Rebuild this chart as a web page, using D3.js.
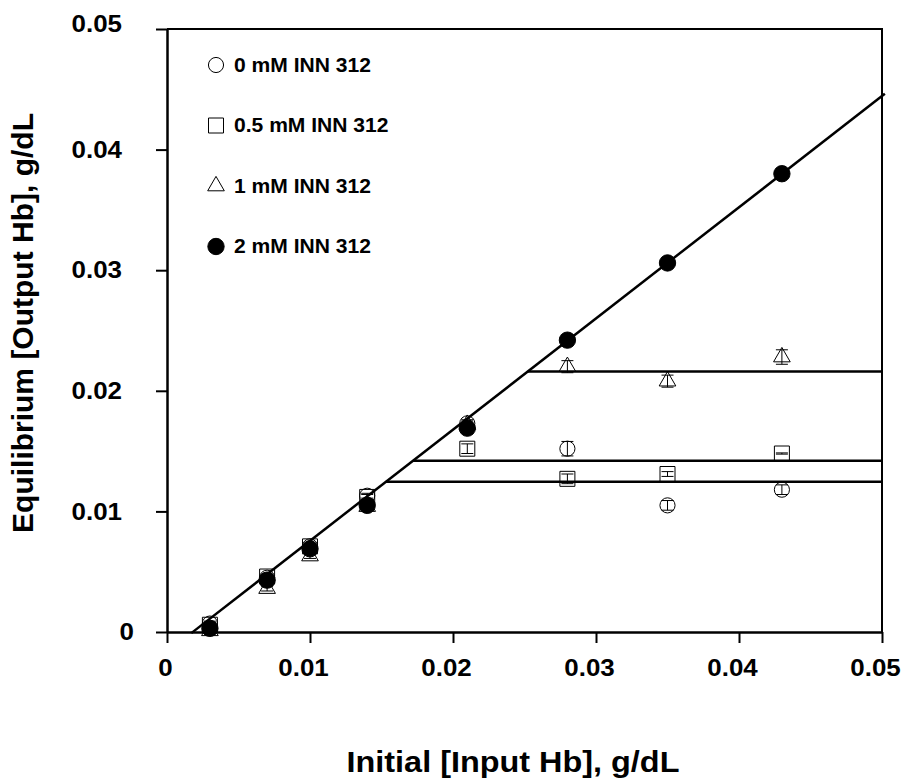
<!DOCTYPE html>
<html>
<head>
<meta charset="utf-8">
<script src="https://cdn.jsdelivr.net/npm/d3@7"></script>
<style>
  body { margin: 0; background: #fff; }
  svg { display: block; font-family: "Liberation Sans", Arial, sans-serif; }
</style>
</head>
<body>
<div id="chart"></div>
<script>
// Input Hb concentrations (g/dL)
const inputHb = [0.003, 0.007, 0.010, 0.014, 0.021, 0.028, 0.035, 0.043];

// Equilibrium output Hb per INN 312 concentration
const out0 = [0.0007, 0.0045, 0.0071, 0.0113, 0.0173, 0.0152, 0.0105, 0.0118];
const out05 = [0.0006, 0.0046, 0.0071, 0.0112, 0.0152, 0.0127, 0.0131, 0.0148];
const out1 = [0.0001, 0.0036, 0.0063, 0.0104, 0.0172, 0.0220, 0.0208, 0.0228];
const out2 = [0.0003, 0.0043, 0.0069, 0.0105, 0.0169, 0.0242, 0.0306, 0.0380];

// error bars (+/-)
const err0 = [0.0002, 0.0002, 0.0002, 0.0002, 0.0003, 0.0006, 0.0004, 0.0004];
const err05 = [0.0002, 0.0002, 0.0002, 0.0002, 0.0004, 0.0004, 0.0002, 0.00005];
const err1 = [0.0002, 0.0002, 0.0002, 0.0002, 0.0003, 0.0005, 0.0005, 0.0006];
const err2 = [0.0002, 0.0002, 0.0002, 0.0002, 0.0002, 0.0002, 0.0002, 0.0004];

const seriesNames = ["0 mM INN 312", "0.5 mM INN 312", "1 mM INN 312", "2 mM INN 312"];

// fitted lines: linear part and plateau levels
const fitSlope = 0.922;
const fitX0 = 0.0018;
const fitRange = [0.0017, 0.0502];
const plateaus = [0.0216, 0.0142, 0.01245];

const xTicks = [0, 0.01, 0.02, 0.03, 0.04, 0.05];
const yTicks = [0, 0.01, 0.02, 0.03, 0.04, 0.05];

const width = 903, height = 782;
const marginLeft = 167, marginRight = 21, marginTop = 29, marginBottom = 150;
const stretch = 1.08; // text in the original is a bit wider than Arial

const x = d3.scaleLinear().domain([0, 0.05]).range([marginLeft, width - marginRight]);
const y = d3.scaleLinear().domain([0, 0.05]).range([height - marginBottom, marginTop]);

const svg = d3.select("#chart").append("svg")
    .attr("width", width)
    .attr("height", height)
    .attr("viewBox", [0, 0, width, height]);

function widen(sel) {
    sel.each(function () {
        const len = this.getComputedTextLength();
        d3.select(this)
            .attr("textLength", len * stretch)
            .attr("lengthAdjust", "spacingAndGlyphs");
    });
}

// frame (top and right)
svg.append("path")
    .attr("fill", "none")
    .attr("stroke", "#000")
    .attr("stroke-width", 2)
    .attr("d", `M${x(0)},${y(0.05)}H${x(0.05)}V${y(0)}`);

// x axis
svg.append("g")
    .attr("transform", `translate(0,${y(0)})`)
    .call(d3.axisBottom(x).tickValues(xTicks).tickSize(11).tickSizeOuter(0)
        .tickFormat(d => d === 0 ? "0" : d3.format(".2f")(d)))
    .call(g => g.select(".domain").attr("stroke-width", 2.5))
    .call(g => g.selectAll(".tick line").attr("stroke-width", 2))
    .call(g => g.selectAll(".tick text")
        .attr("y", 44)
        .attr("dy", 0)
        .attr("dx", d => d === 0 ? -2 : -7)
        .attr("fill", "#000")
        .attr("font-size", 24)
        .attr("font-weight", "bold")
        .attr("font-family", "Liberation Sans, Arial, sans-serif"))
    .call(g => widen(g.selectAll(".tick text")));

// y axis
svg.append("g")
    .attr("transform", `translate(${x(0)},0)`)
    .call(d3.axisLeft(y).tickValues(yTicks).tickSize(11).tickSizeOuter(0)
        .tickFormat(d => d === 0 ? "0" : d3.format(".2f")(d)))
    .call(g => g.select(".domain").attr("stroke-width", 2.5))
    .call(g => g.selectAll(".tick line").attr("stroke-width", 2))
    .call(g => g.selectAll(".tick text")
        .attr("x", d => d === 0 ? -33 : -45)
        .attr("dy", d => d === 0.05 ? "0.1em" : "0.32em")
        .attr("fill", "#000")
        .attr("font-size", 24)
        .attr("font-weight", "bold")
        .attr("font-family", "Liberation Sans, Arial, sans-serif"))
    .call(g => widen(g.selectAll(".tick text")));

// axis titles
svg.append("text")
    .attr("x", 513)
    .attr("y", 772)
    .attr("text-anchor", "middle")
    .attr("font-size", 30)
    .attr("font-weight", "bold")
    .text("Initial [Input Hb], g/dL")
    .call(widen);

svg.append("text")
    .attr("transform", "translate(33,323) rotate(-90)")
    .attr("text-anchor", "middle")
    .attr("font-size", 30)
    .attr("font-weight", "bold")
    .text("Equilibrium [Output Hb], g/dL");

// fitted lines
const fitLine = d3.line().x(d => x(d[0])).y(d => y(d[1]));
const fitY = v => fitSlope * (v - fitX0);

svg.append("path")
    .attr("fill", "none")
    .attr("stroke", "#000")
    .attr("stroke-width", 2.5)
    .attr("d", fitLine(fitRange.map(v => [v, fitY(v)])));

svg.append("g")
    .selectAll("path")
    .data(plateaus)
    .join("path")
    .attr("fill", "none")
    .attr("stroke", "#000")
    .attr("stroke-width", 2.5)
    .attr("d", p => fitLine([[p / fitSlope + fitX0, p], [0.05, p]]));

// series
const symbols = [
    {type: d3.symbolCircle, size: 180, fill: "none"},
    {type: d3.symbolSquare, size: 225, fill: "none"},
    {type: d3.symbolTriangle, size: 120, fill: "none"},
    {type: d3.symbolCircle, size: 210, fill: "#000"}
];
const errs = [err0, err05, err1, err2];
const series = [out0, out05, out1, out2].map((vals, i) => ({
    name: seriesNames[i],
    sym: symbols[i],
    points: vals.map((v, j) => ({x: inputHb[j], y: v, e: errs[i][j]}))
}));

const marks = svg.append("g");
series.forEach(s => {
    const g = marks.append("g");
    g.selectAll("path.sym")
        .data(s.points)
        .join("path")
        .attr("class", "sym")
        .attr("transform", d => `translate(${x(d.x)},${y(d.y)})`)
        .attr("d", d3.symbol().type(s.sym.type).size(s.sym.size))
        .attr("fill", s.sym.fill)
        .attr("stroke", "#000")
        .attr("stroke-width", 1);

    // error bars
    const eb = g.selectAll("g.err")
        .data(s.points)
        .join("g")
        .attr("class", "err")
        .attr("stroke", "#000")
        .attr("stroke-width", 1);
    eb.append("line")
        .attr("x1", d => x(d.x)).attr("x2", d => x(d.x))
        .attr("y1", d => y(d.y - d.e)).attr("y2", d => y(d.y + d.e));
    eb.selectAll("line.cap")
        .data(d => [d.y - d.e, d.y + d.e].map(v => ({x: d.x, v})))
        .join("line")
        .attr("class", "cap")
        .attr("x1", d => x(d.x) - 6).attr("x2", d => x(d.x) + 6)
        .attr("y1", d => y(d.v)).attr("y2", d => y(d.v));
});

// legend
const legend = svg.append("g").attr("transform", "translate(216,65)");
const legItem = legend.selectAll("g")
    .data(series)
    .join("g")
    .attr("transform", (d, i) => `translate(0,${i * 60.5})`);
legItem.append("path")
    .attr("d", d => d3.symbol().type(d.sym.type).size(d.sym.size)())
    .attr("fill", d => d.sym.fill)
    .attr("stroke", "#000")
    .attr("stroke-width", 1);
legItem.append("text")
    .attr("x", 18)
    .attr("dy", "0.35em")
    .attr("font-size", 19.5)
    .attr("font-weight", "bold")
    .text(d => d.name)
    .call(widen);
</script>
</body>
</html>
